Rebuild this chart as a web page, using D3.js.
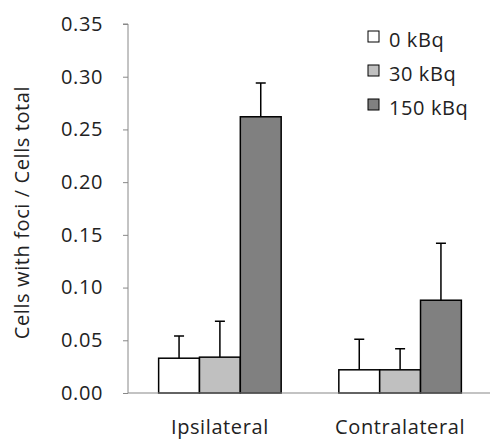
<!DOCTYPE html>
<html>
<head>
<meta charset="utf-8">
<script src="https://cdn.jsdelivr.net/npm/d3@7"></script>
<style>
	body { margin: 0; background: #fff; }
	text { font-family: "Open Sans", "Liberation Sans", sans-serif; fill: #222; letter-spacing: 0.6px; }
</style>
</head>
<body>
<div id="chart"></div>
<script>
var categories = ["Ipsilateral", "Contralateral"];
var doses = ["0 kBq", "30 kBq", "150 kBq"];
var means = [
	[0.033, 0.034, 0.262],
	[0.022, 0.022, 0.088]
];
var errors = [
	[0.021, 0.034, 0.032],
	[0.029, 0.020, 0.054]
];
var yTicks = [0, 0.05, 0.10, 0.15, 0.20, 0.25, 0.30, 0.35];
var colors = ["#ffffff", "#c0c0c0", "#808080"];

var width = 490, height = 439;
var margin = { left: 128, right: 0, top: 24, bottom: 46 };

var svg = d3.select("#chart")
	.append("svg")
		.attr("width", width)
		.attr("height", height);

var x0 = d3.scaleBand()
	.domain(categories)
	.range([margin.left, width - margin.right + 2])
	.paddingInner(0.32)
	.paddingOuter(0.17);

var x1 = d3.scaleBand()
	.domain(d3.range(doses.length))
	.range([0, x0.bandwidth()]);

var y = d3.scaleLinear()
	.domain([0, 0.35])
	.range([height - margin.bottom, margin.top]);

// y axis
var yAxis = svg.append("g")
	.attr("transform", "translate(" + margin.left + ",0)")
	.call(d3.axisLeft(y).tickValues(yTicks).tickFormat(d3.format(".2f")).tickSize(5).tickPadding(20));
yAxis.select(".domain").attr("stroke", "#888").attr("d", "M-5," + y(0.35) + "H0V" + y(0));
yAxis.selectAll(".tick line").attr("stroke", "#888");
yAxis.selectAll(".tick text").style("font-size", "20px").attr("fill", "#222");

svg.append("text")
	.attr("transform", "translate(29," + ((y(0) + y(0.35)) / 2 + 4) + ") rotate(-90)")
	.attr("text-anchor", "middle")
	.style("font-size", "20px")
	.text("Cells with foci / Cells total");

// bars
var groups = svg.selectAll(".group")
	.data(categories)
	.enter().append("g")
		.attr("class", "group")
		.attr("transform", function(d) { return "translate(" + x0(d) + ",0)"; });

groups.each(function(c, ci) {
	var g = d3.select(this);
	var rows = doses.map(function(d, i) { return { i: i, v: means[ci][i], e: errors[ci][i] }; });

	g.selectAll(".err")
		.data(rows)
		.enter().append("path")
			.attr("fill", "none")
			.attr("stroke", "#000")
			.attr("stroke-width", 1.5)
			.attr("d", function(d) {
				var cx = x1(d.i) + x1.bandwidth() / 2;
				return "M" + cx + "," + y(d.v) + "V" + y(d.v + d.e) + "M" + (cx - 5) + "," + y(d.v + d.e) + "H" + (cx + 5);
			});

	g.selectAll(".bar")
		.data(rows)
		.enter().append("rect")
			.attr("x", function(d) { return x1(d.i); })
			.attr("y", function(d) { return y(d.v); })
			.attr("width", x1.bandwidth())
			.attr("height", function(d) { return y(0) - y(d.v); })
			.attr("fill", function(d) { return colors[d.i]; })
			.attr("stroke", "#000")
			.attr("stroke-width", 1.5);
});

// x axis
svg.append("line")
	.attr("x1", margin.left).attr("x2", width)
	.attr("y1", y(0)).attr("y2", y(0))
	.attr("stroke", "#888")
	.attr("stroke-width", 1.2);

svg.selectAll(".cat")
	.data(categories)
	.enter().append("text")
		.attr("x", function(d) { return x0(d) + x0.bandwidth() / 2; })
		.attr("y", 434)
		.attr("text-anchor", "middle")
		.style("font-size", "20px")
		.text(function(d) { return d; });

// legend
var legend = svg.selectAll(".legend")
	.data(doses)
	.enter().append("g")
		.attr("transform", function(d, i) { return "translate(368," + (31 + i * 34) + ")"; });

legend.append("rect")
	.attr("width", 11).attr("height", 11)
	.attr("fill", function(d, i) { return colors[i]; })
	.attr("stroke", "#000")
	.attr("stroke-width", 1);

legend.append("text")
	.attr("x", 21)
	.attr("y", 16)
	.style("font-size", "20px")
	.text(function(d) { return d; });
</script>
</body>
</html>
